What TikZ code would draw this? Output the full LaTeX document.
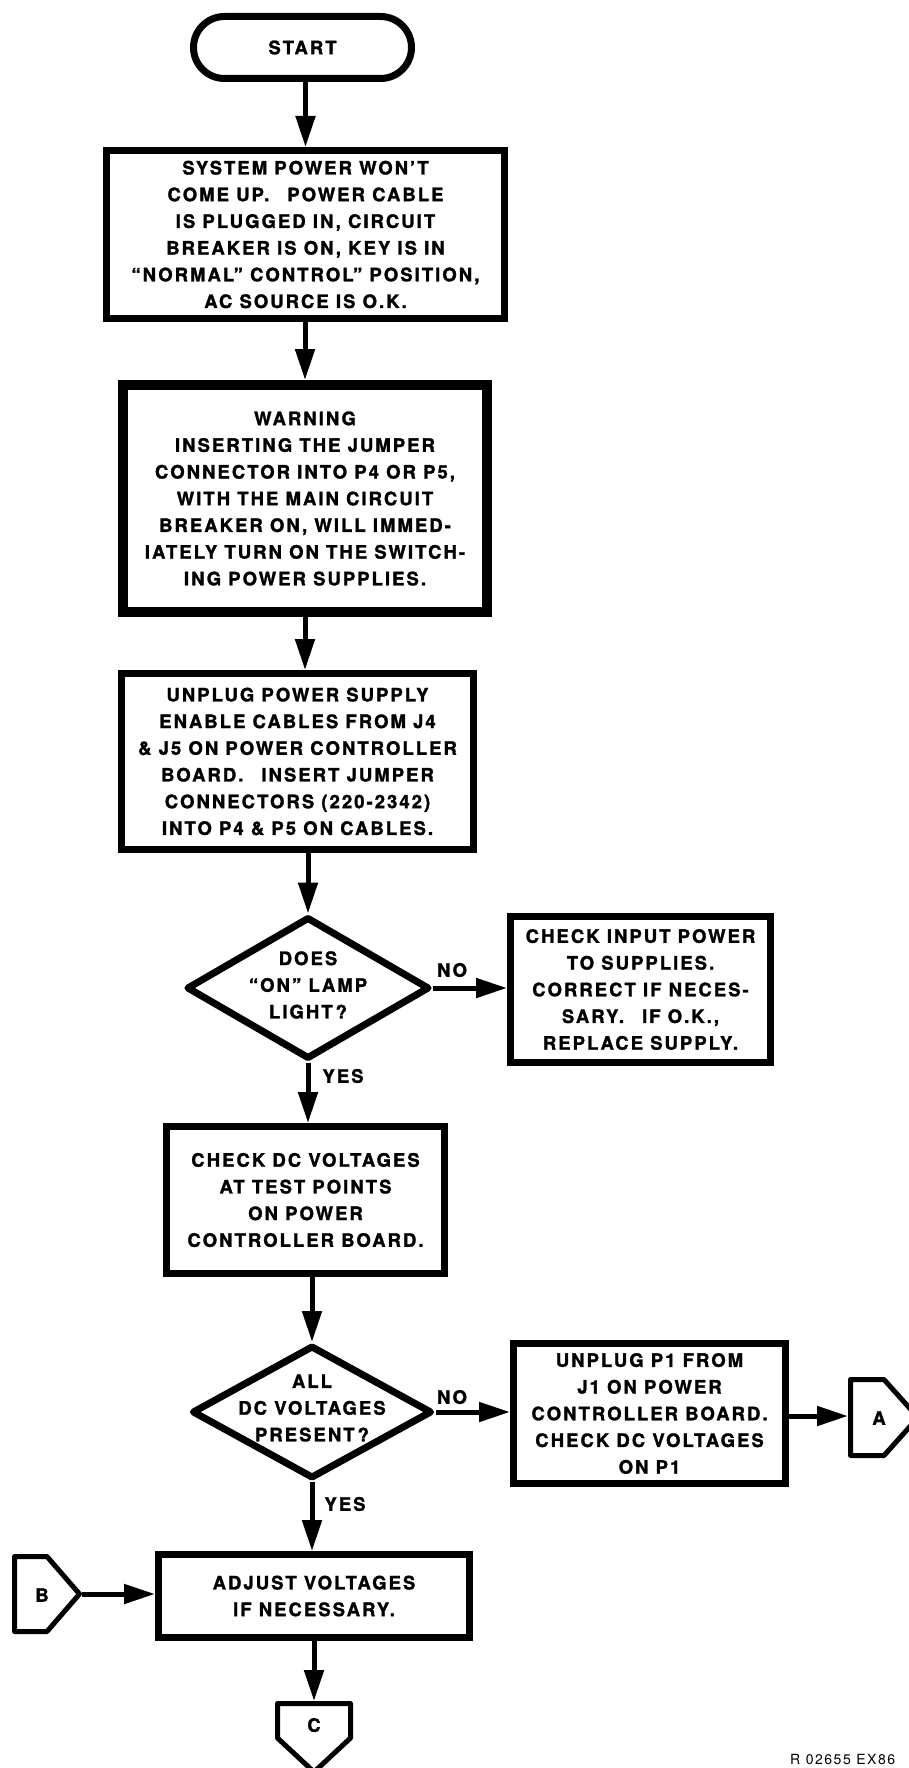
\documentclass[tikz,border=0pt]{standalone}
\usepackage{fontspec}
\setmainfont{TeX Gyre Heros}[LetterSpace=11, BoldFeatures={FakeBold=1.5}]
\usetikzlibrary{arrows.meta,shapes.geometric}
\newcommand\sgap{\hspace{18pt}}
\tikzset{
  txt/.style={font=\fontsize{18.5}{26.7}\selectfont\bfseries, align=center, inner sep=0pt},
  box/.style={txt, draw, line width=7pt, rectangle},
  thickbox/.style={box, line width=10pt},
  startbox/.style={box, rounded corners=31pt},
  decision/.style={draw, diamond, line width=7pt, line join=round, inner sep=0pt},
  conn/.style={draw, line width=5pt, line join=round},
  arr/.style={line width=5pt, -{Triangle[length=31pt,width=19pt]}},
  lbl/.style={txt},
}
\begin{document}
\begin{tikzpicture}[x=1pt,y=-1pt]
\useasboundingbox (0,0) rectangle (909,1768);
\fill[white] (0,0) rectangle (909,1768);

% main column
\node[startbox, minimum width=218pt, minimum height=62pt] (start) at (302.5,47.5) {START};
\node[box, minimum width=398pt, minimum height=168pt] (b1) at (305.5,234.5)
  {SYSTEM POWER WON'T\\COME UP.\sgap POWER CABLE\\IS PLUGGED IN, CIRCUIT\\BREAKER IS ON, KEY IS IN\\“NORMAL” CONTROL” POSITION,\\AC SOURCE IS O.K.};
\node[thickbox, minimum width=364pt, minimum height=227pt] (b2) at (305,498.5)
  {WARNING\\INSERTING THE JUMPER\\CONNECTOR INTO P4 OR P5,\\WITH THE MAIN CIRCUIT\\BREAKER ON, WILL IMMED-\\IATELY TURN ON THE SWITCH-\\ING POWER SUPPLIES.};
\node[box, minimum width=352pt, minimum height=176pt] (b3) at (297.5,761.5)
  {UNPLUG POWER SUPPLY\\ENABLE CABLES FROM J4\\\& J5 ON POWER CONTROLLER\\BOARD.\sgap INSERT JUMPER\\CONNECTORS (220-2342)\\INTO P4 \& P5 ON CABLES.};
\node[decision, minimum width=243pt, minimum height=142pt] (d1) at (308,988) {};
\node[txt] (d1t) at (308,985) {DOES\\“ON” LAMP\\LIGHT\,?};
\node[box, minimum width=260pt, minimum height=146pt] (r1) at (640.5,989.5)
  {CHECK INPUT POWER\\TO SUPPLIES.\\CORRECT IF NECES-\\SARY.\sgap IF O.K.,\\REPLACE SUPPLY.};
\node[box, minimum width=278pt, minimum height=147pt] (b4) at (305.5,1200)
  {CHECK DC VOLTAGES\\AT TEST POINTS\\ON POWER\\CONTROLLER BOARD.};
\node[decision, minimum width=240pt, minimum height=133pt] (d2) at (312,1412) {};
\node[txt] (d2t) at (312,1408) {ALL\\DC VOLTAGES\\PRESENT\,?};
\node[box, minimum width=272pt, minimum height=140pt] (r2) at (649.5,1413.5)
  {UNPLUG P1 FROM\\J1 ON POWER\\CONTROLLER BOARD.\\CHECK DC VOLTAGES\\ON P1};
\node[box, minimum width=311pt, minimum height=83pt] (b5) at (314,1596)
  {ADJUST VOLTAGES\\IF NECESSARY.};

% off-page connectors
\draw[conn] (14.5,1556.5) -- (47,1556.5) -- (79.5,1594) -- (47,1631.5) -- (14.5,1631.5) -- cycle;
\node[txt] (conB) at (42,1595) {B};
\coordinate (conBe) at (82,1594);
\draw[conn] (850.5,1379.5) -- (884,1379.5) -- (918,1417.5) -- (884,1455.5) -- (850.5,1455.5) -- cycle;
\node[txt] (conA) at (879,1418) {A};
\coordinate (conAw) at (848,1416);
\draw[conn] (277.5,1703.5) -- (350.5,1703.5) -- (350.5,1738) -- (314,1772) -- (277.5,1738) -- cycle;
\node[txt] (conC) at (314,1725) {C};
\coordinate (conCn) at (314,1701);

% connectors
\draw[arr] (b1.north |- start.south) -- (b1.north);
\draw[arr] (b2.north |- b1.south) -- (b2.north);
\draw[arr] (b2.south) -- (b2.south |- b3.north);
\draw[arr] (d1.north |- b3.south) -- (d1.north);
\draw[arr] (d1.east) -- (d1.east -| r1.west);
\draw[arr] (d1.south) -- (d1.south |- b4.north);
\draw[arr] (d2.north |- b4.south) -- (d2.north);
\draw[arr] (d2.east) -- (d2.east -| r2.west);
\draw[arr] (r2.east |- conAw) -- (conAw);
\draw[arr] (d2.south) -- (d2.south |- b5.north);
\draw[arr] (conBe) -- (conBe -| b5.west);
\draw[arr] (b5.south -| conCn) -- (conCn);

% labels
\node[lbl] (no1) at (452,970) {NO};
\node[lbl] (yes1) at (343,1076) {YES};
\node[lbl] (no2) at (452,1397) {NO};
\node[lbl] (yes2) at (345,1504) {YES};

\node[anchor=south west, inner sep=0pt, font=\fontsize{14}{16}\selectfont] (fig) at (790,1765) {R 02655 EX86};
\end{tikzpicture}
\end{document}
